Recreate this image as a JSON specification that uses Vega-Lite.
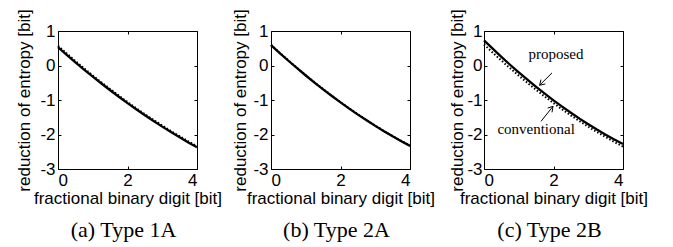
{
  "$schema": "https://vega.github.io/schema/vega-lite/v6.json",
  "padding": {"left": 15, "top": 8, "right": 5, "bottom": 1},
  "spacing": 74,
  "bounds": "flush",
  "background": "white",
  "config": {
    "view": {"stroke": "black", "strokeWidth": 1},
    "axis": {
      "domain": false, "grid": false, "tickColor": "black", "tickSize": -3, "tickWidth": 1,
      "labelFont": "Liberation Sans", "labelFontSize": 17, "labelColor": "black",
      "titleFont": "Liberation Sans", "titleFontSize": 17, "titleFontWeight": "normal", "titleColor": "black"
    },
    "title": {"font": "Liberation Serif", "fontSize": 22, "fontWeight": "normal", "color": "black", "orient": "bottom", "anchor": "middle", "frame": "group", "offset": 14, "dx": -4}
  },
  "datasets": {
    "a": [
      {"x": 0, "y": 0.53, "s": "proposed"}, {"x": 0.25, "y": 0.309, "s": "proposed"}, {"x": 0.5, "y": 0.093, "s": "proposed"}, {"x": 0.75, "y": -0.117, "s": "proposed"},
      {"x": 1, "y": -0.322, "s": "proposed"}, {"x": 1.25, "y": -0.522, "s": "proposed"}, {"x": 1.5, "y": -0.717, "s": "proposed"}, {"x": 1.75, "y": -0.906, "s": "proposed"},
      {"x": 2, "y": -1.09, "s": "proposed"}, {"x": 2.25, "y": -1.269, "s": "proposed"}, {"x": 2.5, "y": -1.442, "s": "proposed"}, {"x": 2.75, "y": -1.61, "s": "proposed"},
      {"x": 3, "y": -1.772, "s": "proposed"}, {"x": 3.25, "y": -1.93, "s": "proposed"}, {"x": 3.5, "y": -2.082, "s": "proposed"}, {"x": 3.75, "y": -2.229, "s": "proposed"},
      {"x": 4, "y": -2.37, "s": "proposed"},
      {"x": 0, "y": 0.57, "s": "conventional"}, {"x": 0.25, "y": 0.35, "s": "conventional"}, {"x": 0.5, "y": 0.13, "s": "conventional"}, {"x": 0.75, "y": -0.08, "s": "conventional"},
      {"x": 1, "y": -0.29, "s": "conventional"}, {"x": 1.25, "y": -0.49, "s": "conventional"}, {"x": 1.5, "y": -0.68, "s": "conventional"}, {"x": 1.75, "y": -0.87, "s": "conventional"},
      {"x": 2, "y": -1.06, "s": "conventional"}, {"x": 2.25, "y": -1.24, "s": "conventional"}, {"x": 2.5, "y": -1.41, "s": "conventional"}, {"x": 2.75, "y": -1.58, "s": "conventional"},
      {"x": 3, "y": -1.74, "s": "conventional"}, {"x": 3.25, "y": -1.9, "s": "conventional"}, {"x": 3.5, "y": -2.05, "s": "conventional"}, {"x": 3.75, "y": -2.2, "s": "conventional"},
      {"x": 4, "y": -2.34, "s": "conventional"}
    ],
    "b": [
      {"x": 0, "y": 0.59, "s": "proposed"}, {"x": 0.25, "y": 0.361, "s": "proposed"}, {"x": 0.5, "y": 0.138, "s": "proposed"}, {"x": 0.75, "y": -0.079, "s": "proposed"},
      {"x": 1, "y": -0.29, "s": "proposed"}, {"x": 1.25, "y": -0.494, "s": "proposed"}, {"x": 1.5, "y": -0.693, "s": "proposed"}, {"x": 1.75, "y": -0.884, "s": "proposed"},
      {"x": 2, "y": -1.07, "s": "proposed"}, {"x": 2.25, "y": -1.249, "s": "proposed"}, {"x": 2.5, "y": -1.423, "s": "proposed"}, {"x": 2.75, "y": -1.589, "s": "proposed"},
      {"x": 3, "y": -1.75, "s": "proposed"}, {"x": 3.25, "y": -1.904, "s": "proposed"}, {"x": 3.5, "y": -2.053, "s": "proposed"}, {"x": 3.75, "y": -2.194, "s": "proposed"},
      {"x": 4, "y": -2.33, "s": "proposed"},
      {"x": 0, "y": 0.6, "s": "conventional"}, {"x": 0.25, "y": 0.37, "s": "conventional"}, {"x": 0.5, "y": 0.148, "s": "conventional"}, {"x": 0.75, "y": -0.07, "s": "conventional"},
      {"x": 1, "y": -0.28, "s": "conventional"}, {"x": 1.25, "y": -0.485, "s": "conventional"}, {"x": 1.5, "y": -0.684, "s": "conventional"}, {"x": 1.75, "y": -0.875, "s": "conventional"},
      {"x": 2, "y": -1.062, "s": "conventional"}, {"x": 2.25, "y": -1.24, "s": "conventional"}, {"x": 2.5, "y": -1.415, "s": "conventional"}, {"x": 2.75, "y": -1.58, "s": "conventional"},
      {"x": 3, "y": -1.742, "s": "conventional"}, {"x": 3.25, "y": -1.896, "s": "conventional"}, {"x": 3.5, "y": -2.045, "s": "conventional"}, {"x": 3.75, "y": -2.186, "s": "conventional"},
      {"x": 4, "y": -2.322, "s": "conventional"}
    ],
    "c": [
      {"x": 0, "y": 0.73, "s": "proposed"}, {"x": 0.25, "y": 0.487, "s": "proposed"}, {"x": 0.5, "y": 0.251, "s": "proposed"}, {"x": 0.75, "y": 0.022, "s": "proposed"},
      {"x": 1, "y": -0.199, "s": "proposed"}, {"x": 1.25, "y": -0.413, "s": "proposed"}, {"x": 1.5, "y": -0.619, "s": "proposed"}, {"x": 1.75, "y": -0.818, "s": "proposed"},
      {"x": 2, "y": -1.01, "s": "proposed"}, {"x": 2.25, "y": -1.194, "s": "proposed"}, {"x": 2.5, "y": -1.371, "s": "proposed"}, {"x": 2.75, "y": -1.541, "s": "proposed"},
      {"x": 3, "y": -1.703, "s": "proposed"}, {"x": 3.25, "y": -1.858, "s": "proposed"}, {"x": 3.5, "y": -2.005, "s": "proposed"}, {"x": 3.75, "y": -2.145, "s": "proposed"},
      {"x": 4, "y": -2.278, "s": "proposed"},
      {"x": 0, "y": 0.61, "s": "conventional"}, {"x": 0.25, "y": 0.373, "s": "conventional"}, {"x": 0.5, "y": 0.144, "s": "conventional"}, {"x": 0.75, "y": -0.079, "s": "conventional"},
      {"x": 1, "y": -0.295, "s": "conventional"}, {"x": 1.25, "y": -0.504, "s": "conventional"}, {"x": 1.5, "y": -0.706, "s": "conventional"}, {"x": 1.75, "y": -0.902, "s": "conventional"},
      {"x": 2, "y": -1.09, "s": "conventional"}, {"x": 2.25, "y": -1.272, "s": "conventional"}, {"x": 2.5, "y": -1.446, "s": "conventional"}, {"x": 2.75, "y": -1.614, "s": "conventional"},
      {"x": 3, "y": -1.775, "s": "conventional"}, {"x": 3.25, "y": -1.929, "s": "conventional"}, {"x": 3.5, "y": -2.076, "s": "conventional"}, {"x": 3.75, "y": -2.217, "s": "conventional"},
      {"x": 4, "y": -2.35, "s": "conventional"}
    ],
    "arrows": [
      {"x": 1.957, "y": -0.214, "x2": 1.6, "y2": -0.572},
      {"x": 1.6, "y": -0.572, "x2": 1.765, "y2": -0.534},
      {"x": 1.6, "y": -0.572, "x2": 1.64, "y2": -0.409},
      {"x": 1.64, "y": -1.62, "x2": 1.986, "y2": -1.183},
      {"x": 1.986, "y": -1.183, "x2": 1.833, "y2": -1.233},
      {"x": 1.986, "y": -1.183, "x2": 1.957, "y2": -1.358}
    ],
    "labels": [
      {"x": 2.07, "y": 0.33, "t": "proposed"},
      {"x": 1.5, "y": -1.85, "t": "conventional"}
    ]
  },
  "hconcat": [
    {
      "width": 139, "height": 138,
      "title": {"text": "(a) Type 1A"},
      "data": {"name": "a"},
      "layer": [
        {
          "transform": [{"filter": "datum.s == 'conventional'"}],
          "mark": {"type": "line", "color": "black", "strokeWidth": 2, "strokeDash": [1.5, 2]},
          "encoding": {
            "x": {"field": "x", "type": "quantitative", "scale": {"domain": [0, 4], "nice": false, "zero": false}, "axis": {"orient": "bottom", "values": [0, 2, 4], "title": "fractional binary digit [bit]", "labelPadding": 6, "titlePadding": 2, "labelExpr": "datum.value + ''"}},
            "y": {"field": "y", "type": "quantitative", "scale": {"domain": [-3, 1], "nice": false, "zero": false}, "axis": {"orient": "left", "values": [-3, -2, -1, 0, 1], "title": "reduction of entropy [bit]", "labelPadding": 6, "titlePadding": 6, "labelExpr": "datum.value + ''"}}
          }
        },
        {
          "transform": [{"filter": "datum.s == 'proposed'"}],
          "mark": {"type": "line", "color": "black", "strokeWidth": 2.3},
          "encoding": {
            "x": {"field": "x", "type": "quantitative", "axis": {"orient": "top", "values": [0, 2, 4], "labels": false, "title": null}},
            "y": {"field": "y", "type": "quantitative", "axis": {"orient": "right", "values": [-3, -2, -1, 0, 1], "labels": false, "title": null}}
          }
        }
      ],
      "resolve": {"axis": {"x": "independent", "y": "independent"}}
    },
    {
      "width": 139, "height": 138,
      "title": {"text": "(b) Type 2A"},
      "data": {"name": "b"},
      "layer": [
        {
          "transform": [{"filter": "datum.s == 'conventional'"}],
          "mark": {"type": "line", "color": "black", "strokeWidth": 2, "strokeDash": [1.5, 2]},
          "encoding": {
            "x": {"field": "x", "type": "quantitative", "scale": {"domain": [0, 4], "nice": false, "zero": false}, "axis": {"orient": "bottom", "values": [0, 2, 4], "title": "fractional binary digit [bit]", "labelPadding": 6, "titlePadding": 2, "labelExpr": "datum.value + ''"}},
            "y": {"field": "y", "type": "quantitative", "scale": {"domain": [-3, 1], "nice": false, "zero": false}, "axis": {"orient": "left", "values": [-3, -2, -1, 0, 1], "title": "reduction of entropy [bit]", "labelPadding": 6, "titlePadding": 3, "labelExpr": "datum.value + ''"}}
          }
        },
        {
          "transform": [{"filter": "datum.s == 'proposed'"}],
          "mark": {"type": "line", "color": "black", "strokeWidth": 2.3},
          "encoding": {
            "x": {"field": "x", "type": "quantitative", "axis": {"orient": "top", "values": [0, 2, 4], "labels": false, "title": null}},
            "y": {"field": "y", "type": "quantitative", "axis": {"orient": "right", "values": [-3, -2, -1, 0, 1], "labels": false, "title": null}}
          }
        }
      ],
      "resolve": {"axis": {"x": "independent", "y": "independent"}}
    },
    {
      "width": 139, "height": 138,
      "title": {"text": "(c) Type 2B"},
      "layer": [
        {
          "data": {"name": "c"},
          "transform": [{"filter": "datum.s == 'conventional'"}],
          "mark": {"type": "line", "color": "black", "strokeWidth": 2, "strokeDash": [1.5, 2]},
          "encoding": {
            "x": {"field": "x", "type": "quantitative", "scale": {"domain": [0, 4], "nice": false, "zero": false}, "axis": {"orient": "bottom", "values": [0, 2, 4], "title": "fractional binary digit [bit]", "labelPadding": 6, "titlePadding": 2, "labelExpr": "datum.value + ''"}},
            "y": {"field": "y", "type": "quantitative", "scale": {"domain": [-3, 1], "nice": false, "zero": false}, "axis": {"orient": "left", "values": [-3, -2, -1, 0, 1], "title": "reduction of entropy [bit]", "labelPadding": 5, "titlePadding": 0, "labelExpr": "datum.value + ''"}}
          }
        },
        {
          "data": {"name": "c"},
          "transform": [{"filter": "datum.s == 'proposed'"}],
          "mark": {"type": "line", "color": "black", "strokeWidth": 2.3},
          "encoding": {
            "x": {"field": "x", "type": "quantitative", "axis": {"orient": "top", "values": [0, 2, 4], "labels": false, "title": null}},
            "y": {"field": "y", "type": "quantitative", "axis": {"orient": "right", "values": [-3, -2, -1, 0, 1], "labels": false, "title": null}}
          }
        },
        {
          "data": {"name": "arrows"},
          "mark": {"type": "rule", "color": "black", "strokeWidth": 1},
          "encoding": {
            "x": {"field": "x", "type": "quantitative", "axis": null},
            "y": {"field": "y", "type": "quantitative", "axis": null},
            "x2": {"field": "x2"},
            "y2": {"field": "y2"}
          }
        },
        {
          "data": {"name": "labels"},
          "mark": {"type": "text", "font": "Liberation Serif", "fontSize": 15, "color": "black"},
          "encoding": {
            "x": {"field": "x", "type": "quantitative", "axis": null},
            "y": {"field": "y", "type": "quantitative", "axis": null},
            "text": {"field": "t"}
          }
        }
      ],
      "resolve": {"axis": {"x": "independent", "y": "independent"}}
    }
  ]
}
